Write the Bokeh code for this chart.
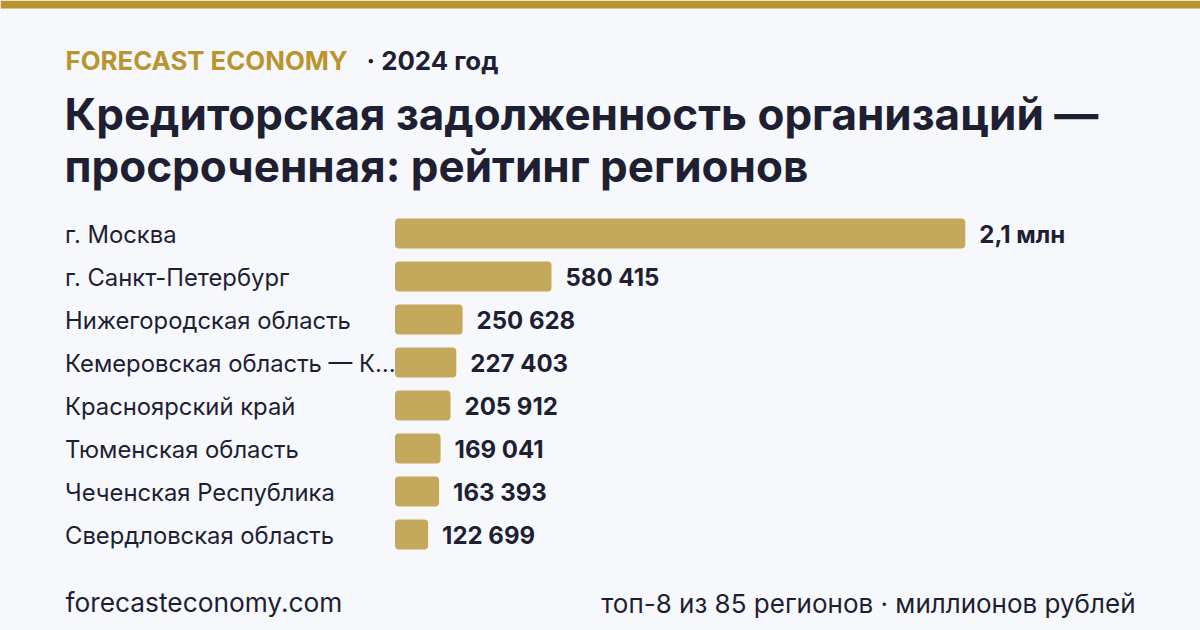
from bokeh.plotting import figure
from bokeh.models import ColumnDataSource, Label, BoxAnnotation, Range1d
from bokeh.core.properties import value
from bokeh.embed import file_html
from bokeh.resources import INLINE

# ---- data ----
regions = [
    "г. Москва",
    "г. Санкт-Петербург",
    "Нижегородская область",
    "Кемеровская область — К…",
    "Красноярский край",
    "Тюменская область",
    "Чеченская Республика",
    "Свердловская область",
]
values = [2115000, 580415, 250628, 227403, 205912, 169041, 163393, 122699]
value_labels = ["2,1 млн", "580 415", "250 628", "227 403", "205 912", "169 041", "163 393", "122 699"]

title_lines = ["Кредиторская задолженность организаций —", "просроченная: рейтинг регионов"]
brand = "FORECAST ECONOMY"
year_text = "· 2024 год"
footer_left = "forecasteconomy.com"
footer_right = "топ-8 из 85 регионов · миллионов рублей"

# ---- layout ----
W, H = 1200, 630
BAR_X0 = 394.5
K = 156.5 / 580415.0          # px per unit
ROW0 = 233.0
ROW_STEP = 43.0

def dx(px):
    return (px - BAR_X0) / K

def dy(py):
    return (py - ROW0) / ROW_STEP

GOLD = "#B8952E"
BAR = "#C4A85C"
DARK = "#1E1F33"
BG = "#F7F8FC"
FONT = "Inter"

p = figure(width=W, height=H, output_backend="svg", toolbar_location=None,
           x_axis_type=None, y_axis_type=None, min_border=0,
           x_range=Range1d(dx(0), dx(W)), y_range=Range1d(dy(H), dy(0)),
           background_fill_color=BG, border_fill_color=BG, outline_line_color=None)
p.grid.visible = False

src = ColumnDataSource(dict(y=list(range(len(regions))), v=values, name=regions, lab=value_labels))

p.hbar(y="y", left=0, right="v", height=30 / ROW_STEP, source=src,
       fill_color=BAR, line_color=None, border_radius=4)

p.text(x=0, y="y", text="name", source=src, x_offset=-330, y_offset=1,
       text_font=value(FONT), text_font_size="23.8px", text_color=DARK,
       text_align="left", text_baseline="middle")

p.text(x="v", y="y", text="lab", source=src, x_offset=14, y_offset=1,
       text_font=value(FONT), text_font_size="24px", text_font_style="bold",
       text_color=DARK, text_align="left", text_baseline="middle")

# top stripe
p.add_layout(BoxAnnotation(top=dy(0), bottom=dy(8), fill_color=GOLD, fill_alpha=1, line_color=None))

def lab(text, x, baseline, size, color=DARK, style="normal", align="left"):
    y = baseline - 0.4 * size
    p.add_layout(Label(x=dx(x), y=dy(y), text=text, text_font=FONT, text_font_size=f"{size}px",
                       text_color=color, text_font_style=style, text_align=align,
                       text_baseline="alphabetic"))

lab(brand, 65, 70, 25.8, GOLD, "bold")
lab(year_text, 366, 70, 25.8, DARK, "bold")
lab(title_lines[0], 64, 131, 44, DARK, "bold")
lab(title_lines[1], 64, 183, 44, DARK, "bold")
lab(footer_left, 65, 613, 26.3, DARK)
lab(footer_right, 1135, 613, 26, DARK, align="right")

open("out.html", "w").write(file_html(p, INLINE))
